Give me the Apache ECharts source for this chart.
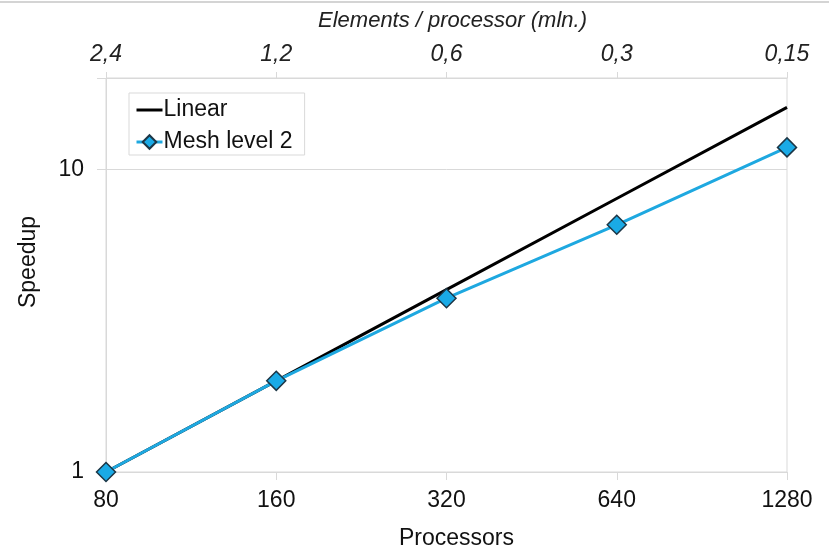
<!DOCTYPE html>
<html>
<head>
<meta charset="utf-8">
<script src="https://cdn.jsdelivr.net/npm/echarts@6/dist/echarts.min.js"></script>
<style>html,body{margin:0;padding:0;background:#fff;}#c{width:829px;height:555px;}</style>
</head>
<body>
<div id="c"></div>
<script>
var processors = ['80', '160', '320', '640', '1280'];
var elementsPerProc = ['2,4', '1,2', '0,6', '0,3', '0,15'];
var linearSpeedup = [1, 2, 4, 8, 16];
var meshLevel2 = [1, 2, 3.75, 6.55, 11.8];

var FONT = '"Liberation Sans", Arial, sans-serif';
var GRID = '#d9d9d9';
var chart = echarts.init(document.getElementById('c'), null, {renderer: 'canvas'});
chart.setOption({
  animation: false,
  backgroundColor: '#fff',
  graphic: [{type: 'line', shape: {x1: 0, y1: 2, x2: 829, y2: 2}, style: {stroke: '#d4d4d4', lineWidth: 2}}],
  grid: {left: 106, right: 42, top: 78, bottom: 78, show: true, borderColor: GRID, borderWidth: 1},
  legend: {
    left: 129, top: 93, orient: 'vertical',
    padding: [5, 12, 1, 6],
    itemGap: 8, itemWidth: 26, itemHeight: 17,
    borderColor: GRID, borderWidth: 1, backgroundColor: '#fff',
    textStyle: {fontFamily: FONT, fontSize: 23, color: '#111', lineHeight: 24, padding: [0, 0, 0, -4]},
    data: [
      {name: 'Linear', itemStyle: {opacity: 0}, lineStyle: {width: 3, color: '#000'}},
      {name: 'Mesh level 2', lineStyle: {width: 3}}
    ]
  },
  xAxis: [{
    type: 'category', data: processors, boundaryGap: false, position: 'bottom',
    name: 'Processors', nameLocation: 'middle', nameGap: 55,
    nameTextStyle: {fontFamily: FONT, fontSize: 23, color: '#111', padding: [0, 0, 0, 20]},
    axisLine: {lineStyle: {color: GRID}},
    axisTick: {show: true, length: 8, lineStyle: {color: GRID}},
    axisLabel: {fontFamily: FONT, fontSize: 23, color: '#111', margin: 17},
    splitLine: {show: false}
  }, {
    type: 'category', data: elementsPerProc, boundaryGap: false, position: 'top',
    name: 'Elements / processor (mln.)', nameLocation: 'middle', nameGap: 46,
    nameTextStyle: {fontFamily: FONT, fontSize: 22, fontStyle: 'italic', color: '#222', padding: [0, 0, 0, 12]},
    axisLine: {lineStyle: {color: GRID}},
    axisTick: {show: true, length: 6, lineStyle: {color: GRID}},
    axisLabel: {fontFamily: FONT, fontSize: 23, fontStyle: 'italic', color: '#222', margin: 12},
    splitLine: {show: false}
  }],
  yAxis: {
    type: 'log', logBase: 10, min: 1, max: 20,
    name: 'Speedup', nameLocation: 'middle', nameGap: 66, nameRotate: 90,
    nameTextStyle: {fontFamily: FONT, fontSize: 23, color: '#111', padding: [0, 0, 0, 26]},
    axisLine: {show: true, lineStyle: {color: GRID}},
    axisTick: {show: true, length: 9, lineStyle: {color: GRID}},
    axisLabel: {fontFamily: FONT, fontSize: 23, color: '#111', margin: 22,
      formatter: function (v) { return (Math.abs(v - 1) < 1e-6 || Math.abs(v - 10) < 1e-6) ? String(Math.round(v)) : ''; }},
    splitLine: {show: true, lineStyle: {color: GRID}}
  },
  series: [{
    name: 'Linear', type: 'line', xAxisIndex: 0, data: linearSpeedup,
    symbol: 'none', lineStyle: {color: '#000', width: 3}, itemStyle: {color: '#000'}, z: 2
  }, {
    name: 'Mesh level 2', type: 'line', xAxisIndex: 0, data: meshLevel2,
    symbol: 'diamond', symbolSize: 19,
    lineStyle: {color: '#1ea8e0', width: 3},
    itemStyle: {color: '#1aaae6', borderColor: '#1c3646', borderWidth: 1.5}, z: 3
  }]
});
</script>
</body>
</html>
